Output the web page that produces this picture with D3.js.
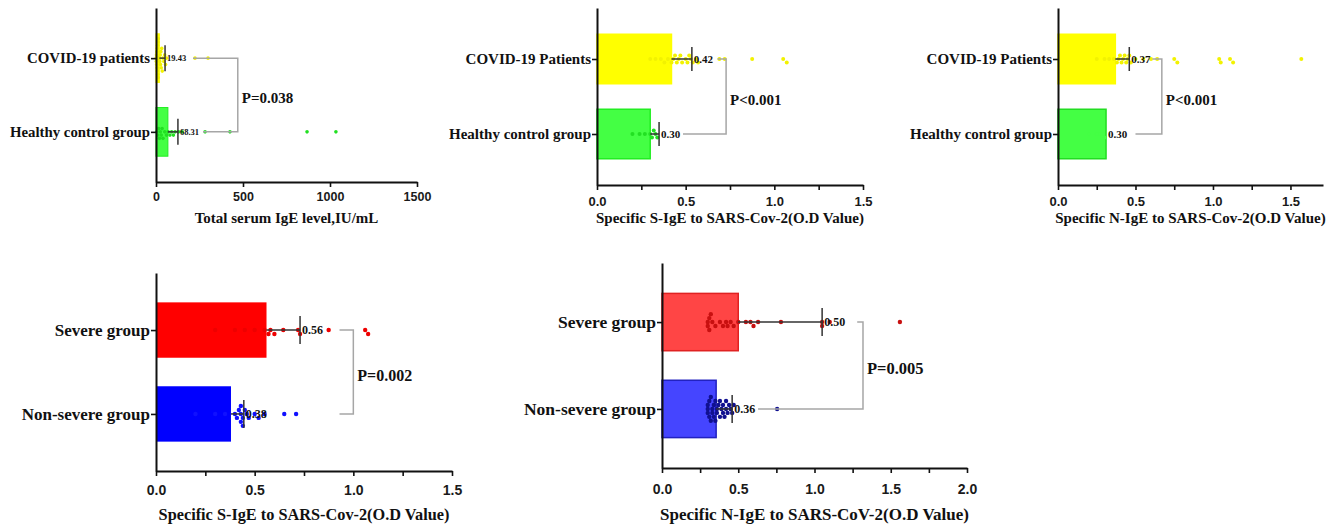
<!DOCTYPE html>
<html><head><meta charset="utf-8">
<script src="https://cdn.jsdelivr.net/npm/d3@7"></script>
<style>body{margin:0;background:#fff}svg{display:block}</style>
</head><body><svg id="c" width="1339" height="525"></svg>
<script>
// ---------------- DATA ----------------
// Panel 1: Total serum IgE
const p1Categories = ["COVID-19 patients", "Healthy control group"];
const p1Means = [19.43, 68.31];
const p1ErrEnd = [52, 126];
const p1ValueLabels = ["19.43", "68.31"];
const p1PointsCovid = [1,2,3,4,5,6,7,8,9,10,11,12,13,14,15,16,18,20,22,24,26,28,30,33,36,40,45,50,55,60,224,299];
const p1PointsHealthy = [5,10,15,20,25,30,35,40,50,60,70,80,90,100,110,130,150,282,425,868,1034];
const p1Ticks = [0, 500, 1000, 1500];
const p1TickLabels = ["0", "500", "1000", "1500"];
const p1Bracket = [470, 213, 270];
const p1PText = "P=0.038";
const p1Title = "Total serum IgE level,IU/mL";

// Panel 2: Specific S-IgE (COVID vs healthy)
const p2Categories = ["COVID-19 Patients", "Healthy control group"];
const p2Means = [0.42, 0.30];
const p2ErrEnd = [0.535, 0.35];
const p2ValueLabels = ["0.42", "0.30"];
const p2PointsCovid = [0.30,0.33,0.36,0.38,0.40,0.42,0.43,0.44,0.45,0.46,0.47,0.48,0.50,0.51,0.52,0.53,0.54,0.56,0.57,0.69,0.72,0.875,1.05,1.07];
const p2PointsHealthy = [0.20,0.24,0.27,0.30,0.31,0.32,0.33,0.34];
const p2Ticks = [0, 0.25, 0.5, 0.75, 1.0, 1.25, 1.5];
const p2TickLabels = ["0.0", "", "0.5", "", "1.0", "", "1.5"];
const p2Bracket = [0.728, 0.68, 0.485];
const p2PText = "P<0.001";
const p2Title = "Specific S-IgE to SARS-Cov-2(O.D Value)";

// Panel 3: Specific N-IgE (COVID vs healthy)
const p3Categories = ["COVID-19 Patients", "Healthy control group"];
const p3Means = [0.37, 0.31];
const p3ErrEnd = [0.46, null];
const p3ValueLabels = ["0.37", "0.30"];
const p3PointsCovid = [0.25,0.30,0.33,0.36,0.38,0.39,0.40,0.41,0.42,0.43,0.44,0.45,0.46,0.47,0.50,0.55,0.60,0.64,0.75,0.77,1.04,1.05,1.11,1.13,1.57];
const p3PointsHealthy = [0.20,0.25,0.28,0.30];
const p3Ticks = [0, 0.25, 0.5, 0.75, 1.0, 1.25, 1.5];
const p3TickLabels = ["0.0", "", "0.5", "", "1.0", "", "1.5"];
const p3Bracket = [0.67, 0.61, 0.50];
const p3PText = "P<0.001";
const p3Title = "Specific N-IgE to SARS-Cov-2(O.D Value)";

// Panel 4: Specific S-IgE (severe vs non-severe)
const p4Categories = ["Severe group", "Non-severe group"];
const p4Means = [0.56, 0.38];
const p4ErrEnd = [0.73, 0.445];
const p4ValueLabels = ["0.56", "0.38"];
const p4PointsSevere = [0.30,0.40,0.45,0.50,0.55,0.57,0.58,0.60,0.645,0.72,0.73,0.875,1.06,1.075];
const p4PointsNonSevere = [0.20,0.30,0.35,0.40,0.41,0.42,0.43,0.43,0.43,0.44,0.44,0.45,0.46,0.47,0.50,0.52,0.55,0.65,0.71];
const p4Ticks = [0, 0.25, 0.5, 0.75, 1.0, 1.25, 1.5];
const p4TickLabels = ["0.0", "", "0.5", "", "1.0", "", "1.5"];
const p4Bracket = [1.0, 0.93, 0.93];
const p4PText = "P=0.002";
const p4Title = "Specific S-IgE to SARS-Cov-2(O.D Value)";

// Panel 5: Specific N-IgE (severe vs non-severe)
const p5Categories = ["Severe group", "Non-severe group"];
const p5Means = [0.50, 0.355];
const p5ErrEnd = [1.05, 0.46];
const p5ValueLabels = ["0.50", "0.36"];
const p5PointsSevere = [0.30,0.30,0.31,0.31,0.32,0.33,0.35,0.38,0.40,0.42,0.43,0.45,0.47,0.50,0.55,0.58,0.60,0.63,0.78,1.05,1.05,1.10,1.56];
const p5PointsNonSevere = [0.30,0.30,0.30,0.31,0.31,0.32,0.32,0.33,0.33,0.34,0.34,0.35,0.35,0.36,0.36,0.37,0.38,0.38,0.39,0.40,0.40,0.41,0.42,0.42,0.43,0.44,0.45,0.46,0.47,0.755];
const p5Ticks = [0, 0.25, 0.5, 0.75, 1.0, 1.25, 1.5, 1.75, 2.0];
const p5TickLabels = ["0.0", "", "0.5", "", "1.0", "", "1.5", "", "2.0"];
const p5Bracket = [1.318, 1.28, 0.63];
const p5PText = "P=0.005";
const p5Title = "Specific N-IgE to SARS-CoV-2(O.D Value)";

// ---------------- DRAWING ----------------
const SERIF = "'Liberation Serif','Times New Roman',serif";
const SANS = "'Liberation Sans',Arial,sans-serif";
const svg = d3.select("#c");

function swarm(vals, x, r, maxOff) {
  const placed = [];
  const step = r * 1.8;
  return vals.slice().sort((a, b) => a - b).map(v => {
    const px = x(v);
    let dyOk = 0;
    for (let k = 0; k < 400; k++) {
      const dy = (k % 2 ? 1 : -1) * Math.ceil(k / 2) * step;
      if (Math.abs(dy) > maxOff) { dyOk = 0; break; }
      if (placed.every(p => (p.x - px) ** 2 + (p.dy - dy) ** 2 >= step * step)) { dyOk = dy; break; }
    }
    const p = { x: px, dy: dyOk };
    placed.push(p);
    return p;
  });
}

function drawPanel(cfg, L) {
  const g = svg.append("g");
  const x = d3.scaleLinear().domain([0, L.dmax]).range([L.x0, L.x1]);
  const y = d3.scalePoint().domain(cfg.cats).range([L.yTop, L.yBot]).padding(0.68);
  const bh = y.step() * 0.66;

  // bars
  g.selectAll("rect.bar").data(cfg.cats).join("rect").attr("class", "bar")
    .attr("x", x(0)).attr("y", d => y(d) - bh / 2)
    .attr("width", (d, i) => x(cfg.means[i]) - x(0)).attr("height", bh)
    .attr("fill", (d, i) => cfg.barFill[i])
    .attr("stroke", (d, i) => cfg.barStroke[i]).attr("stroke-width", L.barStrokeW);

  // points
  cfg.points.forEach((vals, i) => {
    const pts = swarm(vals, x, L.r, bh / 2 - L.r - 1);
    g.selectAll(null).data(pts).join("circle")
      .attr("cx", d => d.x).attr("cy", d => y(cfg.cats[i]) + d.dy)
      .attr("r", L.r).attr("fill", cfg.ptFill[i]);
  });

  // error bars
  cfg.err.forEach((e, i) => {
    if (e == null) return;
    const cy = y(cfg.cats[i]);
    g.append("line").attr("x1", x(cfg.means[i])).attr("x2", x(e)).attr("y1", cy).attr("y2", cy)
      .attr("stroke", "#333").attr("stroke-width", 1.5);
    g.append("line").attr("x1", x(e)).attr("x2", x(e)).attr("y1", cy - L.eh).attr("y2", cy + L.eh)
      .attr("stroke", "#333").attr("stroke-width", 1.5);
  });

  // value labels
  cfg.labels.forEach((t, i) => {
    const xe = Math.max(cfg.means[i], cfg.err[i] == null ? cfg.means[i] : cfg.err[i]);
    g.append("text").attr("x", x(xe) + 2).attr("y", y(cfg.cats[i])).attr("dy", "0.35em")
      .attr("font-family", SERIF).attr("font-weight", "bold").attr("font-size", L.valFont)
      .attr("fill", "#111").text(t);
  });

  // bracket
  const [bx, bt, bb] = cfg.bracket;
  const y0 = y(cfg.cats[0]), y1 = y(cfg.cats[1]);
  g.append("path").attr("d", `M${x(bt)},${y0}H${x(bx)}V${y1}H${x(bb)}`)
    .attr("fill", "none").attr("stroke", "#a6a6a6").attr("stroke-width", 1.5);
  g.append("text").attr("x", x(bx) + 4).attr("y", (y0 + y1) / 2 + 3).attr("dy", "0.35em")
    .attr("font-family", SERIF).attr("font-weight", "bold").attr("font-size", L.pFont)
    .attr("fill", "#111").text(cfg.pText);

  // axes
  const xa = g.append("g").attr("transform", `translate(0,${L.yBot})`)
    .call(d3.axisBottom(x).tickValues(cfg.ticks).tickSize(5).tickSizeOuter(0).tickPadding(L.tickPad)
      .tickFormat(d => cfg.tickLabels[cfg.ticks.indexOf(d)]));
  xa.selectAll("text").attr("font-family", SANS).attr("font-weight", "bold")
    .attr("font-size", L.tickFont).attr("fill", "#1a1a1a");
  const ya = g.append("g").attr("transform", `translate(${L.x0},0)`)
    .call(d3.axisLeft(y).tickSize(5).tickSizeOuter(0).tickPadding(1));
  ya.selectAll("text").attr("font-family", SERIF).attr("font-weight", "bold")
    .attr("font-size", L.catFont).attr("fill", "#111");
  g.selectAll(".domain").attr("stroke", "#111").attr("stroke-width", 2);
  g.selectAll(".tick line").attr("stroke", "#111").attr("stroke-width", 1.6);

  // axis title
  g.append("text").attr("x", (L.x0 + L.x1) / 2).attr("y", L.titleY).attr("text-anchor", "middle")
    .attr("font-family", SERIF).attr("font-weight", "bold").attr("font-size", L.titleFont)
    .attr("fill", "#111").text(cfg.title);
}

const YEL = "#ffff00", GRN = "#44ff44";

drawPanel({
  cats: p1Categories, means: p1Means, err: p1ErrEnd, labels: p1ValueLabels,
  points: [p1PointsCovid, p1PointsHealthy], ticks: p1Ticks, tickLabels: p1TickLabels,
  bracket: p1Bracket, pText: p1PText, title: p1Title,
  barFill: [YEL, GRN], barStroke: [YEL, "#22ee22"], ptFill: ["#f2f200", "#22e022"]
}, { x0: 156, x1: 417, dmax: 1500, yTop: 8, yBot: 182, r: 1.8, eh: 13, valFont: 8.5, pFont: 15,
     tickPad: 5, tickFont: 12.5, catFont: 14.8, titleFont: 15, titleY: 223, barStrokeW: 1 });

drawPanel({
  cats: p2Categories, means: p2Means, err: p2ErrEnd, labels: p2ValueLabels,
  points: [p2PointsCovid, p2PointsHealthy], ticks: p2Ticks, tickLabels: p2TickLabels,
  bracket: p2Bracket, pText: p2PText, title: p2Title,
  barFill: [YEL, GRN], barStroke: [YEL, "#22ee22"], ptFill: ["#f2f200", "#22e022"]
}, { x0: 597, x1: 863, dmax: 1.5, yTop: 8, yBot: 185, r: 2, eh: 12, valFont: 11, pFont: 15,
     tickPad: 7, tickFont: 13, catFont: 15, titleFont: 15, titleY: 223, barStrokeW: 1.5 });

drawPanel({
  cats: p3Categories, means: p3Means, err: p3ErrEnd, labels: p3ValueLabels,
  points: [p3PointsCovid, p3PointsHealthy], ticks: p3Ticks, tickLabels: p3TickLabels,
  bracket: p3Bracket, pText: p3PText, title: p3Title,
  barFill: [YEL, GRN], barStroke: [YEL, "#22dd22"], ptFill: ["#f2f200", GRN]
}, { x0: 1058, x1: 1323, dmax: 1.71, yTop: 8, yBot: 185, r: 2, eh: 12, valFont: 11, pFont: 15,
     tickPad: 7, tickFont: 13, catFont: 15, titleFont: 15, titleY: 223, barStrokeW: 1.5 });

drawPanel({
  cats: p4Categories, means: p4Means, err: p4ErrEnd, labels: p4ValueLabels,
  points: [p4PointsSevere, p4PointsNonSevere], ticks: p4Ticks, tickLabels: p4TickLabels,
  bracket: p4Bracket, pText: p4PText, title: p4Title,
  barFill: ["#ff0000", "#0000ff"], barStroke: ["#ff0000", "#0000ff"], ptFill: ["#ee0000", "#1010ff"]
}, { x0: 156, x1: 452, dmax: 1.5, yTop: 273, yBot: 471, r: 2.2, eh: 14, valFont: 12, pFont: 16,
     tickPad: 9, tickFont: 14, catFont: 17, titleFont: 16.3, titleY: 520, barStrokeW: 0 });

drawPanel({
  cats: p5Categories, means: p5Means, err: p5ErrEnd, labels: p5ValueLabels,
  points: [p5PointsSevere, p5PointsNonSevere], ticks: p5Ticks, tickLabels: p5TickLabels,
  bracket: p5Bracket, pText: p5PText, title: p5Title,
  barFill: ["#ff4545", "#4545ff"], barStroke: ["#e02222", "#2222c0"], ptFill: ["#c81010", "#101090"]
}, { x0: 662, x1: 967, dmax: 2.0, yTop: 263, yBot: 468, r: 2.2, eh: 14, valFont: 12, pFont: 16.5,
     tickPad: 11, tickFont: 14, catFont: 17.5, titleFont: 17, titleY: 520, barStrokeW: 1.5 });
</script>
</body></html>
